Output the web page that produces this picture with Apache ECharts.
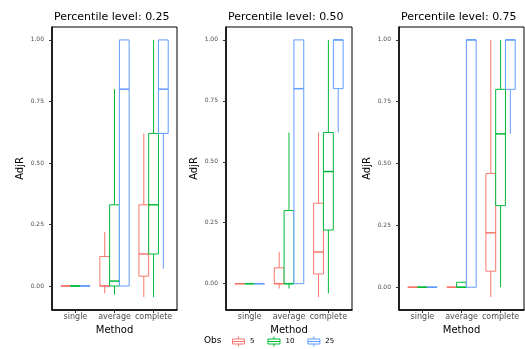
<!DOCTYPE html>
<html>
<head>
<meta charset="utf-8">
<script src="https://cdn.jsdelivr.net/npm/echarts@6/dist/echarts.min.js"></script>
<style>html,body{margin:0;padding:0;background:#fff;}#chart{width:525px;height:349px;}</style>
</head>
<body>
<div id="chart"></div>
<script>
// ---- data ----
const methods = ['single', 'average', 'complete'];
const obsLevels = ['5', '10', '25'];
const panelTitles = ['Percentile level: 0.25', 'Percentile level: 0.50', 'Percentile level: 0.75'];
const yTicks = [0, 0.25, 0.5, 0.75, 1.0];
// each entry per method: [min, q1, median, q3, max]
const p25_obs5  = [[0,0,0,0,0], [-0.03,0,0,0.12,0.22], [-0.045,0.04,0.13,0.33,0.62]];
const p25_obs10 = [[0,0,0,0,0], [-0.035,0,0.02,0.33,0.80], [-0.045,0.13,0.33,0.62,1.00]];
const p25_obs25 = [[0,0,0,0,0], [0,0,0.80,1.00,1.00], [0.07,0.62,0.80,1.00,1.00]];
const p50_obs5  = [[0,0,0,0,0], [-0.02,0,0,0.065,0.13], [-0.055,0.04,0.13,0.33,0.62]];
const p50_obs10 = [[0,0,0,0,0], [-0.02,0,0,0.30,0.62], [-0.04,0.22,0.46,0.62,1.00]];
const p50_obs25 = [[0,0,0,0,0], [0,0,0.80,1.00,1.00], [0.62,0.80,1.00,1.00,1.00]];
const p75_obs5  = [[0,0,0,0,0], [0,0,0,0,0], [-0.04,0.065,0.22,0.46,1.00]];
const p75_obs10 = [[0,0,0,0,0], [0,0,0,0.02,0.02], [0,0.33,0.62,0.80,1.00]];
const p75_obs25 = [[0,0,0,0,0], [0,0,1.00,1.00,1.00], [0.62,0.80,1.00,1.00,1.00]];

const panels = [
  [p25_obs5, p25_obs10, p25_obs25],
  [p50_obs5, p50_obs10, p50_obs25],
  [p75_obs5, p75_obs10, p75_obs25]
];

// ---- styles / layout ----
const colors = ['#F8766D', '#00BA38', '#619CFF'];
const offsets = [-0.25, 0, 0.25];
const halfW = 0.125;
const gridLefts = [52, 226, 399];
const gridWidths = [125, 126, 125];
const yMins = [-0.0975, -0.108, -0.092];
const yMaxs = [1.0525, 1.053, 1.052];
const FONT = 'DejaVu Sans';

function makeRender(offset) {
  return function (params, api) {
    const x = api.value(0) + offset;
    const lo = api.value(1), q1 = api.value(2), med = api.value(3), q3 = api.value(4), hi = api.value(5);
    const tl = api.coord([x - halfW, q3]);
    const br = api.coord([x + halfW, q1]);
    const pm = api.coord([x, med]);
    const ph = api.coord([x, hi]);
    const pl = api.coord([x, lo]);
    const color = api.visual('color');
    const ch = [];
    if (hi > q3) ch.push({type: 'line', shape: {x1: pm[0], y1: ph[1], x2: pm[0], y2: tl[1]}, style: {stroke: color, lineWidth: 1}});
    if (lo < q1) ch.push({type: 'line', shape: {x1: pm[0], y1: br[1], x2: pm[0], y2: pl[1]}, style: {stroke: color, lineWidth: 1}});
    ch.push({type: 'rect', shape: {x: tl[0], y: tl[1], width: br[0] - tl[0], height: br[1] - tl[1]}, style: {fill: '#fff', stroke: color, lineWidth: 1}});
    ch.push({type: 'line', shape: {x1: tl[0], y1: pm[1], x2: br[0], y2: pm[1]}, style: {stroke: color, lineWidth: 1.5}});
    return {type: 'group', children: ch};
  };
}

const grids = [], xAxes = [], yAxes = [], series = [], titles = [];
panels.forEach(function (panel, p) {
  grids.push({left: gridLefts[p], width: gridWidths[p], top: 27, height: 283, show: true, borderColor: '#000', borderWidth: 1, backgroundColor: '#fff'});
  titles.push({text: panelTitles[p], left: gridLefts[p] + 2, top: 11, padding: 0,
    textStyle: {fontFamily: FONT, fontSize: 11, fontWeight: 'normal', color: '#000', lineHeight: 13}});
  xAxes.push({
    gridIndex: p, type: 'value', min: 0.4, max: 3.6,
    name: 'Method', nameLocation: 'middle', nameGap: 8,
    nameTextStyle: {fontFamily: FONT, fontSize: 10, color: '#000'},
    axisLine: {show: true, onZero: false, lineStyle: {color: '#000', width: 1.5}},
    axisTick: {show: true, length: 3, lineStyle: {color: '#333'}, customValues: [1, 2, 3]},
    axisLabel: {customValues: [1, 2, 3], formatter: function (v) { return methods[Math.round(v) - 1]; },
      fontFamily: FONT, fontSize: 8, color: '#4d4d4d', margin: 3},
    splitLine: {show: false}
  });
  yAxes.push({
    gridIndex: p, type: 'value', min: yMins[p], max: yMaxs[p],
    name: 'AdjR', nameLocation: 'middle', nameGap: 27,
    nameTextStyle: {fontFamily: FONT, fontSize: 10, color: '#000'},
    axisLine: {show: true, onZero: false, lineStyle: {color: '#000', width: 1.5}},
    axisTick: {show: true, length: 3, lineStyle: {color: '#333'}, customValues: yTicks},
    axisLabel: {customValues: yTicks, formatter: function (v) { return v.toFixed(2); },
      fontFamily: FONT, fontSize: 6, color: '#4d4d4d', margin: 8},
    splitLine: {show: false}
  });
  panel.forEach(function (obsData, o) {
    series.push({
      type: 'custom', name: obsLevels[o], xAxisIndex: p, yAxisIndex: p,
      itemStyle: {color: colors[o]},
      encode: {x: 0, y: [1, 2, 3, 4, 5]},
      renderItem: makeRender(offsets[o]),
      data: obsData.map(function (d, m) { return [m + 1].concat(d); })
    });
  });
});

const chart = echarts.init(document.getElementById('chart'), null, {renderer: 'canvas'});
chart.setOption({
  animation: false,
  backgroundColor: '#fff',
  textStyle: {fontFamily: FONT},
  title: titles,
  grid: grids,
  xAxis: xAxes,
  yAxis: yAxes,
  series: series,
  legend: {
    data: obsLevels.map(function (n, i) {
      return {name: n, itemStyle: {color: '#fff', borderColor: colors[i], borderWidth: 1}};
    }),
    left: 232, top: 336, padding: 0, itemWidth: 13, itemHeight: 10, itemGap: 13,
    icon: 'path://M6.5,0 V2.5 M0.5,2.5 H12.5 V7.5 H0.5 Z M0.5,5 H12.5 M6.5,7.5 V10',
    textStyle: {fontFamily: FONT, fontSize: 7, color: '#000'},
    selectedMode: false
  },
  graphic: [{type: 'text', left: 204, top: 336, style: {text: 'Obs', fontFamily: FONT, fontSize: 9, fill: '#000'}}]
});
</script>
</body>
</html>
